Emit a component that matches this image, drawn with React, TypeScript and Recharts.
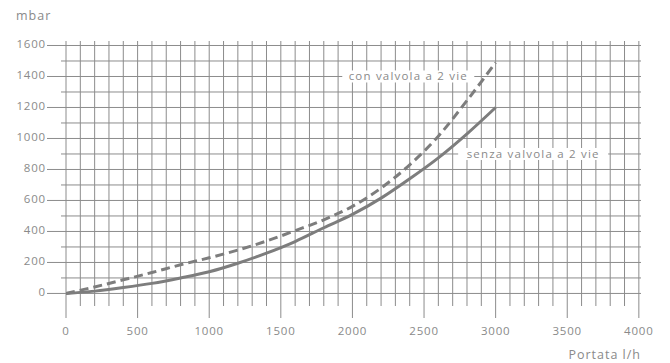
import React from 'react';
import { LineChart, Line, XAxis, YAxis, ReferenceLine, ReferenceDot } from 'recharts';

// Portata (l/h)
const flowRate = [0, 200, 400, 600, 800, 1000, 1200, 1400, 1600, 1800, 2000, 2200, 2400, 2600, 2800, 3000];
// mbar – senza valvola a 2 vie
const senzaValvola = [0, 15, 38, 65, 100, 140, 195, 260, 335, 424, 510, 615, 740, 875, 1030, 1200];
// mbar – con valvola a 2 vie
const conValvola = [0, 42, 88, 135, 185, 230, 280, 338, 405, 475, 562, 680, 830, 1015, 1245, 1490];

const xTicks = [0, 100, 200, 300, 400, 500, 600, 700, 800, 900, 1000, 1100, 1200, 1300, 1400, 1500, 1600, 1700, 1800, 1900, 2000, 2100, 2200, 2300, 2400, 2500, 2600, 2700, 2800, 2900, 3000, 3100, 3200, 3300, 3400, 3500, 3600, 3700, 3800, 3900, 4000];
const xLabelTicks = [0, 500, 1000, 1500, 2000, 2500, 3000, 3500, 4000];
const yTicks = [0, 100, 200, 300, 400, 500, 600, 700, 800, 900, 1000, 1100, 1200, 1300, 1400, 1500, 1600];
const yLabelTicks = [0, 200, 400, 600, 800, 1000, 1200, 1400, 1600];

const data = flowRate.map((q, i) => ({ q, senza: senzaValvola[i], con: conValvola[i] }));

const FONT = '"Open Sans", sans-serif';
const TEXT = '#8a8a8a';
const GRID = '#8c8c8c';
const CURVE = '#7d7d7d';

function XTick(props: any) {
  const { x, y, payload } = props;
  const v = payload.value;
  if (!xLabelTicks.includes(v)) return <g />;
  return (
    <g>
      <line x1={x} x2={x} y1={y} y2={y + 12} stroke={GRID} strokeWidth={1} />
      <text x={x} y={y + 29} textAnchor="middle" fill={TEXT} fontFamily={FONT} fontSize={11.5} letterSpacing={0.8}>
        {v}
      </text>
    </g>
  );
}

function YTick(props: any) {
  const { x, y, payload } = props;
  const v = payload.value;
  const major = yLabelTicks.includes(v);
  return (
    <g>
      <line x1={major ? x - 19 : x - 5} x2={x} y1={y} y2={y} stroke={GRID} strokeWidth={1} />
      {major && (
        <text x={x - 20} y={y + 3} textAnchor="end" fill={TEXT} fontFamily={FONT} fontSize={11.5} letterSpacing={0.8}>
          {v}
        </text>
      )}
    </g>
  );
}

function Annot(props: any) {
  const { cx, cy, text, w } = props;
  return (
    <g>
      <rect x={cx - w / 2} y={cy - 6} width={w} height={12} fill="#ffffff" />
      <text x={cx} y={cy + 4} textAnchor="middle" fill={TEXT} fontFamily={FONT} fontSize={11.5} letterSpacing={1.2}>
        {text}
      </text>
    </g>
  );
}

export default function App() {
  return (
    <div style={{ position: 'absolute', left: 0, top: 0, width: 670, height: 363, background: '#fff' }}>
      <LineChart width={670} height={363} data={data} margin={{ top: 41, right: 29, bottom: 17, left: 6 }}>
        <XAxis
          dataKey="q"
          type="number"
          domain={[0, 4015]}
          ticks={xTicks}
          interval={0}
          allowDataOverflow
          axisLine={false}
          tickLine={false}
          tickSize={0}
          tickMargin={0}
          height={40}
          tick={<XTick />}
        />
        <YAxis
          type="number"
          domain={[-81, 1629]}
          ticks={yTicks}
          interval={0}
          allowDataOverflow
          axisLine={false}
          tickLine={false}
          tickSize={0}
          tickMargin={0}
          width={60}
          tick={<YTick />}
        />
        {yTicks.map((v) => (
          <ReferenceLine key={'h' + v} y={v} stroke={GRID} strokeWidth={1} zIndex={-50} />
        ))}
        {xTicks.map((v) => (
          <ReferenceLine key={'v' + v} x={v} stroke={GRID} strokeWidth={1} zIndex={-50} />
        ))}
        <Line type="monotone" dataKey="senza" stroke={CURVE} strokeWidth={3} dot={false} isAnimationActive={false} />
        <Line type="monotone" dataKey="con" stroke={CURVE} strokeWidth={3} strokeDasharray="9 5" dot={false} isAnimationActive={false} />
        <ReferenceDot x={2390} y={1400} r={0} shape={(p: any) => <Annot {...p} text="con valvola a 2 vie" w={132} />} />
        <ReferenceDot x={3262} y={900} r={0} shape={(p: any) => <Annot {...p} text="senza valvola a 2 vie" w={150} />} />
      </LineChart>
      <div style={{ position: 'absolute', left: 16, top: 8, fontFamily: FONT, fontSize: 12.5, color: TEXT, letterSpacing: 1, lineHeight: '16px' }}>mbar</div>
      <div style={{ position: 'absolute', right: 29, top: 347, fontFamily: FONT, fontSize: 12.5, color: TEXT, letterSpacing: 1, lineHeight: '16px' }}>Portata l/h</div>
    </div>
  );
}
